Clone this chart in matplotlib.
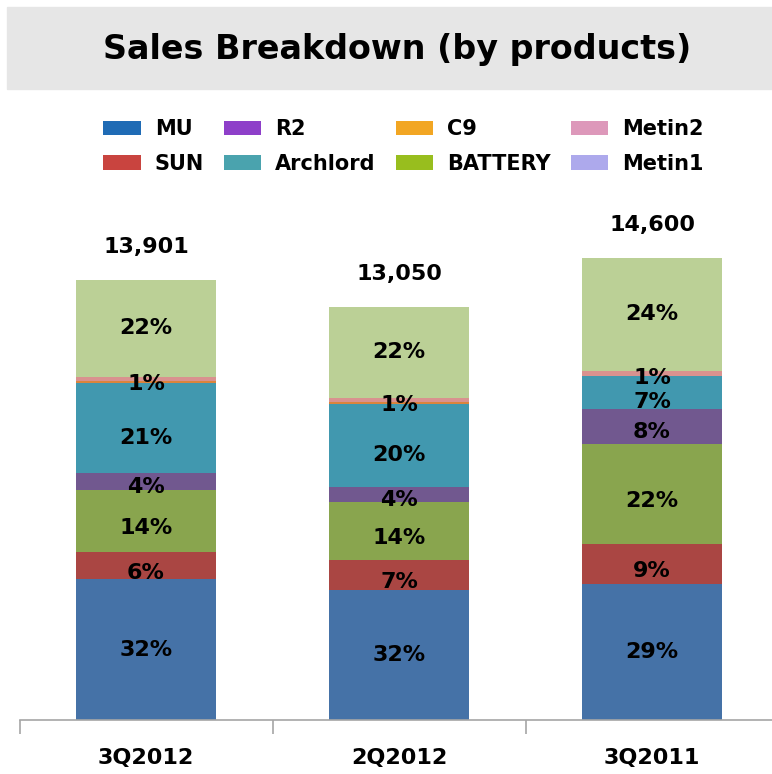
import matplotlib
matplotlib.use('Agg')
import matplotlib.pyplot as plt
from matplotlib.patches import Patch, Rectangle
import numpy as np

# ==========================================
# Data
# ==========================================
quarters = ['3Q2012', '2Q2012', '3Q2011']
totals = [13901, 13050, 14600]

# segment shares (%), bottom to top
series = ['MU', 'SUN', 'BATTERY', 'R2', 'Archlord', 'C9', 'Metin2', 'Others']
mu = [32, 31.5, 29.4]
sun = [6.2, 7.2, 8.7]
battery = [14, 14, 21.6]
r2 = [3.9, 3.7, 7.6]
archlord = [20.6, 20.1, 7.1]
c9 = [0.3, 0.4, 0.1]
metin2 = [1.0, 1.1, 1.1]
others = [22.0, 22.0, 24.4]
shares = [mu, sun, battery, r2, archlord, c9, metin2, others]

bar_colors = ['#4572A7', '#AA4643', '#89A54E', '#71588F', '#4198AF',
              '#DB843D', '#D9928F', '#BBD096']

# legend (uses the brighter legend swatches of the original)
legend_names = ['MU', 'SUN', 'R2', 'Archlord', 'C9', 'BATTERY', 'Metin2', 'Metin1']
legend_colors = ['#1F6BB5', '#C9443F', '#8E3FC9', '#4AA3AE',
                 '#F2A623', '#98BE1E', '#DD98BA', '#ADA9EC']

# which segments get a % label
label_series = ['MU', 'SUN', 'BATTERY', 'R2', 'Archlord', 'Metin2', 'Others']
# small vertical nudge of labels (points), as in the original
label_shift = {'MU': 0, 'SUN': -5, 'BATTERY': -5, 'R2': -4, 'Archlord': -7,
               'Metin2': -2, 'Others': 0}

plt.rcParams['font.family'] = ['DejaVu Sans']

# ==========================================
# Figure
# ==========================================
W, H = 772, 774
fig = plt.figure(figsize=(W / 100, H / 100), dpi=100)

# title banner
fig.patches.append(Rectangle((7 / W, 1 - 89 / H), (W - 7) / W, 82 / H,
                             transform=fig.transFigure, color='#E6E6E6', zorder=0))
fig.text(397 / W, 1 - 50 / H, 'Sales Breakdown (by products)', ha='center', va='center',
         fontsize=24, fontweight='bold')

# axes: baseline at y=720 px, categories 253 px wide
base = 720
top = 200
cat_w = 253
ax = fig.add_axes([19.5 / W, (H - base) / H, (W - 19.5) / W, (base - top) / H])
px_per_unit = 440 / 13901
ax.set_ylim(0, (base - top) / px_per_unit)
ax.set_xlim(-0.5, -0.5 + (W - 19.5) / cat_w)

x = np.arange(len(quarters))
bottoms = np.zeros(len(quarters))
share_arr = np.array(shares, dtype=float)
share_arr = share_arr / share_arr.sum(axis=0)
for name, sh, col in zip(series, share_arr, bar_colors):
    vals = sh * np.array(totals)
    ax.bar(x, vals, bottom=bottoms, width=140 / cat_w, color=col, edgecolor='none', zorder=2)
    if name in label_series:
        raw = shares[series.index(name)]
        for i in range(len(x)):
            yc = bottoms[i] + vals[i] / 2
            if name == 'Metin2':
                yc = bottoms[i]
            ax.annotate(f'{int(round(raw[i]))}%', (x[i], yc),
                        xytext=(0, label_shift[name]), textcoords='offset points',
                        ha='center', va='center', fontsize=16, fontweight='bold',
                        color='black', zorder=3)
    bottoms += vals

for i, t in enumerate(totals):
    ax.annotate(f'{t:,}', (x[i], t), xytext=(0, 24), textcoords='offset points',
                ha='center', va='center', fontsize=16, fontweight='bold')

for s in ['top', 'right', 'left']:
    ax.spines[s].set_visible(False)
ax.spines['bottom'].set_color('#A6A6A6')
ax.spines['bottom'].set_linewidth(1.2)
ax.set_yticks([])
ax.set_xticks(x)
ax.set_xticklabels(quarters, fontsize=16, fontweight='bold')
ax.tick_params(axis='x', which='major', length=0, pad=20)
ax.set_xticks([-0.5, 0.5, 1.5], minor=True)
ax.tick_params(axis='x', which='minor', length=10, width=1.2, color='#A6A6A6')

handles = [Patch(facecolor=c, edgecolor='none') for c in legend_colors]
fig.legend(handles, legend_names, ncol=4, loc='upper left',
           bbox_to_anchor=(93 / W, 1 - 109 / H), frameon=False, borderpad=0,
           prop={'weight': 'bold', 'size': 15},
           handlelength=1.8, handleheight=0.7, handletextpad=0.67,
           columnspacing=0.95, labelspacing=0.7)

plt.savefig('out.png', dpi=100)
